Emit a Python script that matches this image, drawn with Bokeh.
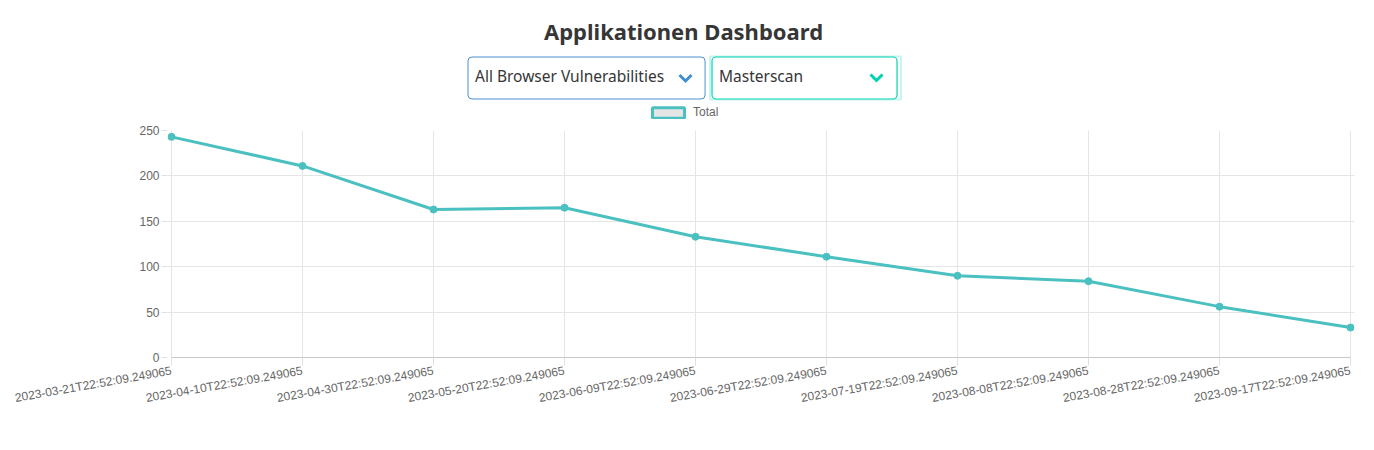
import math
from bokeh.plotting import figure
from bokeh.models import Range1d, FixedTicker, Legend, LegendItem, ColumnDataSource, Label
from bokeh.layouts import column
from bokeh.embed import file_html
from bokeh.resources import INLINE

dates = [
    "2023-03-21T22:52:09.249065", "2023-04-10T22:52:09.249065",
    "2023-04-30T22:52:09.249065", "2023-05-20T22:52:09.249065",
    "2023-06-09T22:52:09.249065", "2023-06-29T22:52:09.249065",
    "2023-07-19T22:52:09.249065", "2023-08-08T22:52:09.249065",
    "2023-08-28T22:52:09.249065", "2023-09-17T22:52:09.249065",
]
totals = [243, 211, 163, 165, 133, 111, 90, 84, 56, 33]
y_ticks = [0, 50, 100, 150, 200, 250]
title_text = "Applikationen Dashboard"
select_1 = "All Browser Vulnerabilities"
select_2 = "Masterscan"
series_name = "Total"

TEAL = "#4bc0c0"
W = 1374
HEAD_H = 124
PAD = 4                      # px of room so edge markers are not cut
FL, FT, FW, FH = 171 - PAD, 130, 1179 + 2 * PAD, 227
FR = W - FL - FW

# ---------------- header (title, selects, legend) ----------------
# header frame shares the chart's horizontal geometry; its data units are page pixels
h = figure(frame_width=FW, frame_height=HEAD_H, output_backend="svg", toolbar_location=None,
           x_range=Range1d(FL, FL + FW), y_range=Range1d(HEAD_H, 0),
           x_axis_location=None, y_axis_location=None,
           min_border_left=FL, min_border_right=FR, min_border_top=0, min_border_bottom=0,
           margin=(0, 0, 0, 0))
h.grid.visible = False
h.outline_line_color = None
h.background_fill_color = "white"
h.border_fill_color = "white"

h.add_layout(Label(x=683, y=30, text=title_text, text_align="center",
                   text_baseline="middle", text_font="Noto Sans", text_font_style="bold",
                   text_font_size="22px", text_color="#363636"))

# focus glow of the second select
h.quad(left=[709.5], right=[900.5], top=[56], bottom=[99], fill_color=None,
       line_color="#00d1b2", line_alpha=0.22, line_width=2)

h.add_layout(Label(x=467.5, y=77.5, text=select_1, text_align="left",
                   text_baseline="middle", text_font="Noto Sans", text_font_size="15.5px",
                   text_color="#363636", padding=(7, 41, 8, 12), border_radius=4,
                   border_line_color="#4a90d0", border_line_width=1,
                   background_fill_color="white"))
h.add_layout(Label(x=711.5, y=77.5, text=select_2, text_align="left",
                   text_baseline="middle", text_font="Noto Sans", text_font_size="15.5px",
                   text_color="#363636", padding=(7, 94, 8, 12), border_radius=4,
                   border_line_color="#00d1b2", border_line_width=1.2,
                   background_fill_color="white"))

chev_1 = h.line([679, 685, 691], [74.5, 80.5, 74.5], line_color="#3e8ed0",
                line_width=3, line_join="miter")
chev_2 = h.line([870, 876, 882], [74, 80, 74], line_color="#00d1b2",
                line_width=3, line_join="miter")
chev_1.level = "overlay"
chev_2.level = "overlay"

# legend swatch source: a quad kept outside the visible header frame
swatch = h.quad(left=[0], right=[1], top=[0], bottom=[1], fill_color="#e5e5e5",
                line_color=TEAL, line_width=3)
legend = Legend(items=[LegendItem(label=series_name, renderers=[swatch])],
                orientation="horizontal", location=(648 - FL, HEAD_H - 119),
                glyph_width=40, glyph_height=13, padding=0, margin=0, spacing=0,
                label_text_font="Liberation Sans", label_text_font_size="12px",
                label_text_color="#666666", label_standoff=5, label_height=13,
                border_line_color=None, background_fill_alpha=0)
h.add_layout(legend)

# ---------------- chart ----------------
XMAX, YMAX = len(totals) - 1, 250
xpad = XMAX * PAD / 1179

src = ColumnDataSource(dict(x=list(range(len(totals))), y=totals))

p = figure(frame_width=FW, frame_height=FH, output_backend="svg", toolbar_location=None,
           x_range=Range1d(-xpad, XMAX + xpad), y_range=Range1d(0, YMAX),
           min_border_left=FL, min_border_right=FR, min_border_top=FT - HEAD_H,
           min_border_bottom=80, margin=(0, 0, 0, 0))
p.outline_line_color = None
p.background_fill_color = "white"
p.border_fill_color = "white"

p.line("x", "y", source=src, line_color=TEAL, line_width=3)
p.scatter("x", "y", source=src, size=7, fill_color=TEAL, line_color=TEAL)

p.xaxis.ticker = FixedTicker(ticks=list(range(len(dates))))
p.xaxis.major_label_overrides = {i: d for i, d in enumerate(dates)}
p.xaxis.major_label_orientation = math.radians(10)
p.xaxis.bounds = (0, XMAX)
p.yaxis.ticker = FixedTicker(ticks=y_ticks)

for ax in (p.xaxis, p.yaxis):
    ax.major_label_text_font = "Liberation Sans"
    ax.major_label_text_font_size = "12px"
    ax.major_label_text_color = "#666666"
    ax.minor_tick_line_color = None
    ax.major_tick_in = 0
    ax.major_tick_line_color = "#e0e0e0"
p.xaxis.axis_line_color = "#c8c8c8"
p.yaxis.axis_line_color = None
p.xaxis.major_tick_out = 8
p.yaxis.major_tick_out = 6
p.yaxis.major_label_standoff = 2
p.xaxis.major_label_standoff = 5

p.xgrid.grid_line_color = "#e5e5e5"
p.ygrid.grid_line_color = "#e5e5e5"
p.xgrid.ticker = FixedTicker(ticks=list(range(len(dates))))
p.ygrid.ticker = FixedTicker(ticks=y_ticks)

layout = column(h, p, spacing=0)
open("out.html", "w").write(file_html(layout, INLINE))
